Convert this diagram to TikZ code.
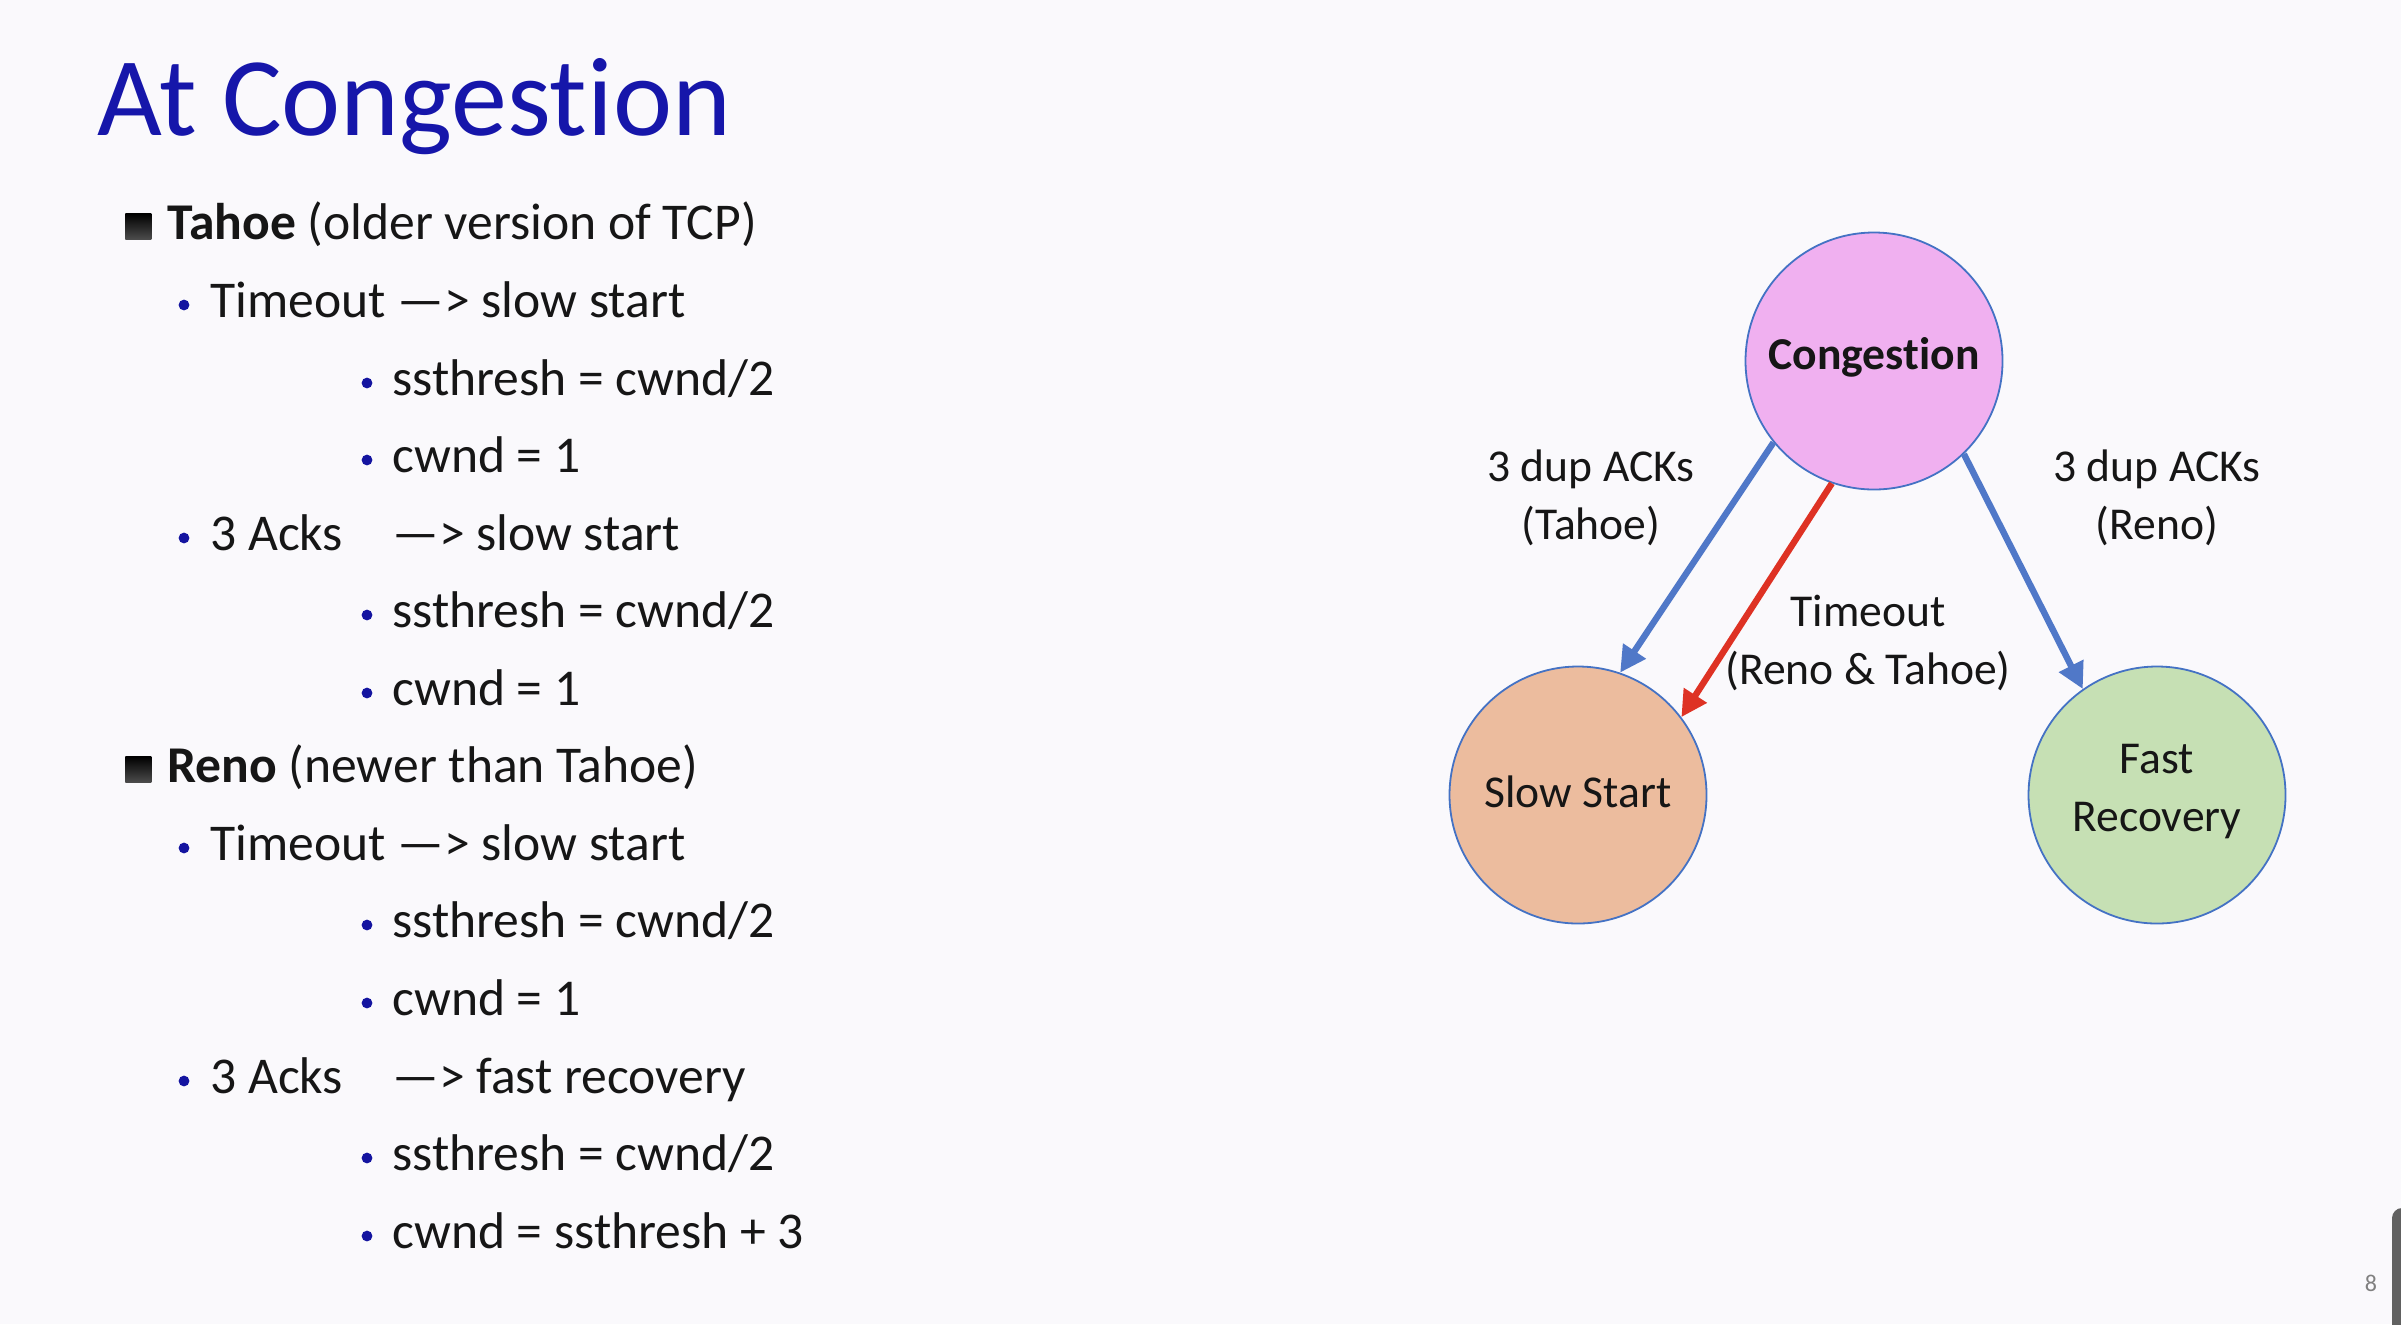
\documentclass[tikz,border=0pt]{standalone}
\usepackage{fontspec}
\setmainfont{Carlito}[Ligatures=NoCommon]
\usetikzlibrary{arrows.meta}

\definecolor{pagebg}{RGB}{250,249,252}
\definecolor{titleblue}{RGB}{22,22,170}
\definecolor{dotblue}{RGB}{20,20,160}
\definecolor{bodytext}{RGB}{22,22,22}
\definecolor{ringblue}{RGB}{68,114,196}
\definecolor{arrowblue}{RGB}{80,120,200}
\definecolor{arrowred}{RGB}{222,50,36}
\definecolor{congfill}{RGB}{240,176,240}
\definecolor{slowfill}{RGB}{236,188,158}
\definecolor{fastfill}{RGB}{198,224,180}

% lift the ink of a label a little without changing its box
\newcommand{\liftlabel}[1]{\raisebox{1.6pt}[\height][\depth]{#1}}

\begin{document}
\begin{tikzpicture}[x=0.5pt, y={(0pt,-0.5pt)},
  bodyfont/.style={font=\fontsize{25.8}{31}\selectfont},
  line/.style={anchor=base west, inner sep=0pt, text=bodytext, bodyfont},
  sqbullet/.style={anchor=south west, inner sep=0pt, minimum size=13pt,
    top color=black, bottom color=black!70, draw=none},
  dotbullet/.style={circle, fill=dotblue, inner sep=0pt, minimum size=5.4pt},
  state/.style={circle, draw=ringblue, line width=0.9pt, minimum size=128.5pt,
    inner sep=0pt, align=center, text=bodytext,
    font=\fontsize{22.8}{29}\selectfont},
  edgelabel/.style={align=center, inner sep=0pt, text=bodytext,
    font=\fontsize{22.8}{29}\selectfont},
  transition/.style={line width=3.2pt, -{Triangle[length=13pt,width=13pt]}},
]
% page
\fill[pagebg] (0,0) rectangle (2401,1324);
\useasboundingbox (0,0) rectangle (2401,1324);

% title
\node[anchor=base west, inner sep=0pt, text=titleblue,
  font=\fontsize{56}{60}\selectfont] (title) at (97,135) {At Congestion};

% Tahoe
\node[sqbullet] (sqA) at (125,240) {};
\node[line] (tahoe) at (167,239) {\textbf{Tahoe} (older version of TCP)};
\node[dotbullet] (dA1) at (184,305) {};
\node[line] (tA1) at (210,317) {Timeout —> slow start};
\node[dotbullet] (dA2) at (367,383) {};
\node[line] (tA2) at (392,395) {ssthresh = cwnd/2};
\node[dotbullet] (dA3) at (367,460) {};
\node[line] (tA3) at (392,472) {cwnd = 1};
\node[dotbullet] (dA4) at (184,538) {};
\node[line] (tA4) at (210,550) {3 Acks};
\node[line] (tA4b) at (392,550) {—> slow start};
\node[dotbullet] (dA5) at (367,615) {};
\node[line] (tA5) at (392,627) {ssthresh = cwnd/2};
\node[dotbullet] (dA6) at (367,693) {};
\node[line] (tA6) at (392,705) {cwnd = 1};

% Reno
\node[sqbullet] (sqB) at (125,783) {};
\node[line] (reno) at (167,782) {\textbf{Reno} (newer than Tahoe)};
\node[dotbullet] (dB1) at (184,848) {};
\node[line] (tB1) at (210,860) {Timeout —> slow start};
\node[dotbullet] (dB2) at (367,925) {};
\node[line] (tB2) at (392,937) {ssthresh = cwnd/2};
\node[dotbullet] (dB3) at (367,1003) {};
\node[line] (tB3) at (392,1015) {cwnd = 1};
\node[dotbullet] (dB4) at (184,1081) {};
\node[line] (tB4) at (210,1093) {3 Acks};
\node[line] (tB4b) at (392,1093) {—> fast recovery};
\node[dotbullet] (dB5) at (367,1158) {};
\node[line] (tB5) at (392,1170) {ssthresh = cwnd/2};
\node[dotbullet] (dB6) at (367,1236) {};
\node[line] (tB6) at (392,1248) {cwnd = ssthresh + 3};

% state diagram
\node[state, fill=congfill, font=\fontsize{22.8}{29}\selectfont\bfseries]
  (cong) at (1874,361) {\liftlabel{Congestion}};
\node[state, fill=slowfill] (slow) at (1578,795) {\liftlabel{Slow Start}};
\node[state, fill=fastfill] (fast) at (2157,795)
  {\liftlabel{Fast}\\\liftlabel{Recovery}};

\draw[transition, arrowblue] (cong.219) -- (slow.71);
\draw[transition, arrowred] (cong.251) -- (slow.37);
\draw[transition, arrowblue] (cong.314) -- (fast.125);

\node[edgelabel] (labTahoe) at (1591,498) {3 dup ACKs\\(Tahoe)};
\node[edgelabel] (labReno) at (2157,498) {3 dup ACKs\\(Reno)};
\node[edgelabel] (labTimeout) at (1868,643) {Timeout\\(Reno \& Tahoe)};

% slide number and the edge of the side panel
\node[text=black!50, inner sep=0pt, font=\fontsize{12}{14}\selectfont]
  (pagenum) at (2371,1283) {8};
\begin{scope}
  \clip (0,0) rectangle (2401,1324);
  \fill[black!62, rounded corners=5pt] (2392,1208) rectangle (2440,1360);
\end{scope}
\end{tikzpicture}
\end{document}
